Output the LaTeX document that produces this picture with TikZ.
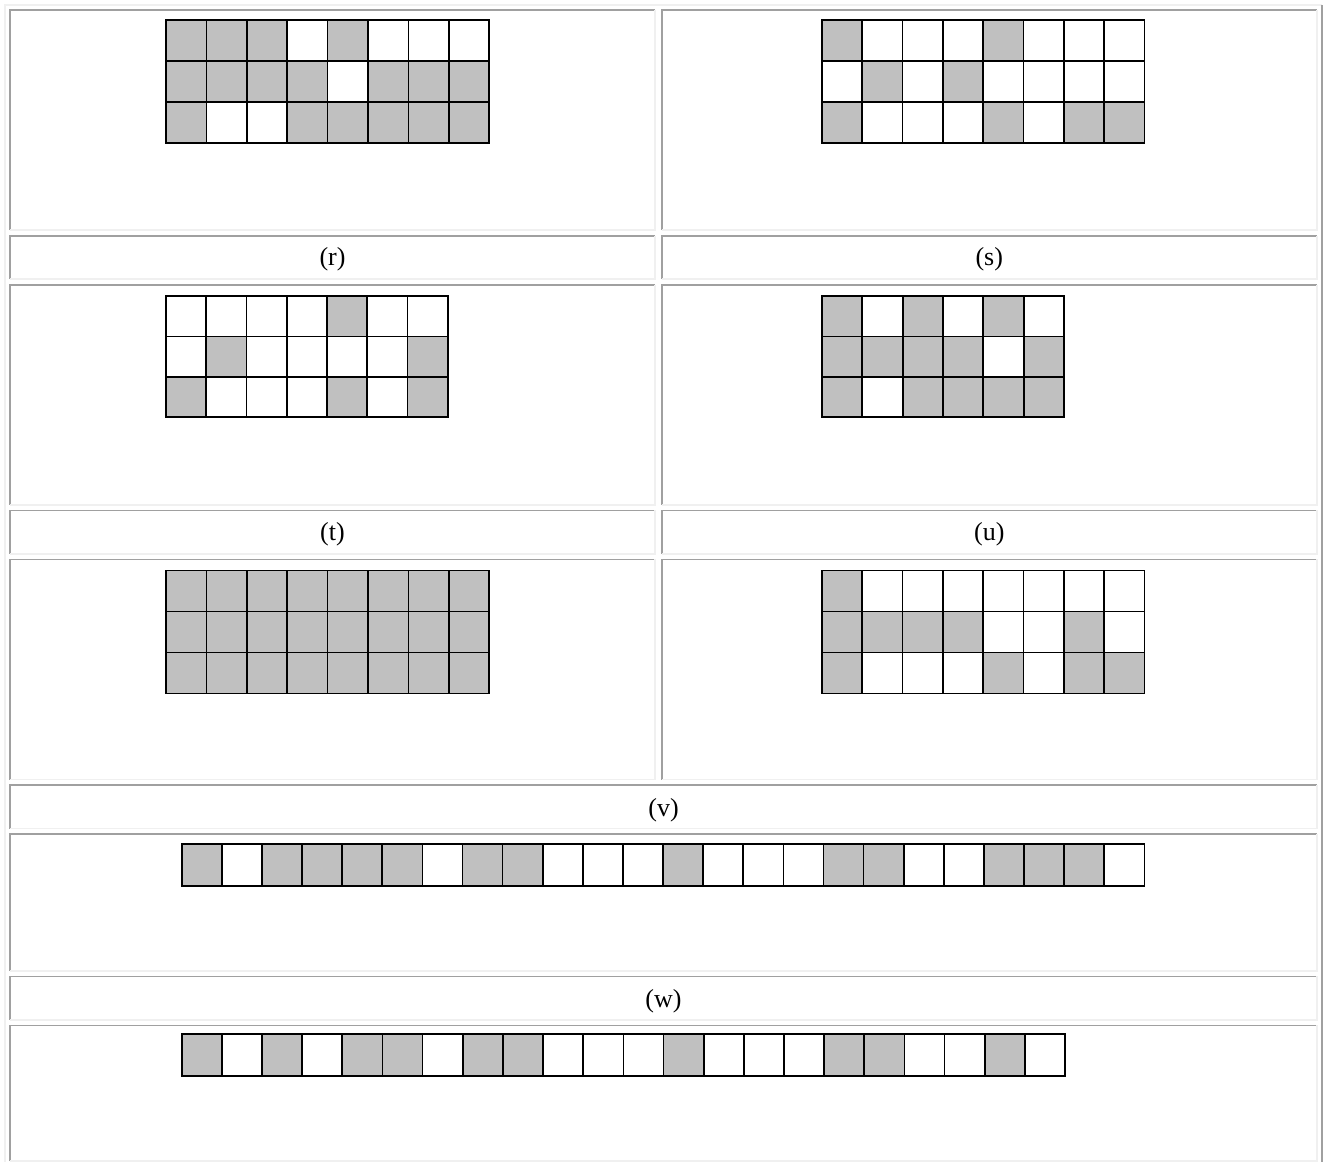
\documentclass[tikz,border=0pt]{standalone}
\usepackage{fontspec}
\setmainfont{Liberation Serif}
\definecolor{bdark}{HTML}{A0A0A0}
\definecolor{blight}{HTML}{F0F0F0}
\definecolor{cellgray}{HTML}{C0C0C0}
\tikzset{
  darkedge/.style={draw=bdark,line width=1.7pt},
  lightedge/.style={draw=blight,line width=1.7pt},
  sq/.style={draw=black,line width=1.7pt},
  lbl/.style={font=\fontsize{26}{31}\selectfont,inner sep=0pt,anchor=center}
}
% table cell with inset border: #1 left, #2 top, #3 right, #4 bottom
\newcommand{\tcell}[4]{%
  \draw[darkedge] (#1,#4) -- (#1,#2) -- (#3,#2);
  \draw[lightedge] (#3,#2) -- (#3,#4) -- (#1,#4);
}
% grid of squares: #1 x0, #2 y0, #3 width, #4 height, #5 rows
\newcommand{\sqgrid}[5]{%
  \foreach \rowlist [count=\rr from 0] in {#5} {
    \foreach \v [count=\cc from 0] in \rowlist {
      \ifnum\v=1
        \draw[sq,fill=cellgray] ({#1+\cc*#3},{#2+\rr*#4}) rectangle ++(#3,#4);
      \else
        \draw[sq,fill=white] ({#1+\cc*#3},{#2+\rr*#4}) rectangle ++(#3,#4);
      \fi
    }
  }
}
\begin{document}
\begin{tikzpicture}[x=1pt,y=-1pt]
\useasboundingbox (0,0) rectangle (1326,1162);
\fill[white] (0,0) rectangle (1326,1162);
% outer table border
\draw[lightedge] (5,1170) -- (5,5.3) -- (1322,5.3);
\draw[darkedge] (1322,5.3) -- (1322,1170);
% rows of cells
\tcell{10}{10}{654.9}{230}
\tcell{661.7}{10}{1316.9}{230}
\tcell{10}{235.8}{654.9}{279.2}
\tcell{661.7}{235.8}{1316.9}{279.2}
\tcell{10}{284.7}{654.9}{504.8}
\tcell{661.7}{284.7}{1316.9}{504.8}
\tcell{10}{510.4}{654.9}{553.8}
\tcell{661.7}{510.4}{1316.9}{553.8}
\tcell{10}{559.4}{654.9}{779.6}
\tcell{661.7}{559.4}{1316.9}{779.6}
\tcell{10}{785.2}{1316.9}{828.6}
\tcell{10}{834.2}{1316.9}{970.8}
\tcell{10}{976.4}{1316.9}{1019.8}
\tcell{10}{1025.4}{1316.9}{1161}
% labels
\node[lbl] (lr) at (332.5,259) {(r)};
\node[lbl] (ls) at (989.3,259) {(s)};
\node[lbl] (lt) at (332.5,534.5) {(t)};
\node[lbl] (lu) at (989.3,534.5) {(u)};
\node[lbl] (lv) at (663.5,810) {(v)};
\node[lbl] (lw) at (663.5,1001) {(w)};
% grids
\sqgrid{166}{20}{40.4}{41.1}{{1,1,1,0,1,0,0,0},{1,1,1,1,0,1,1,1},{1,0,0,1,1,1,1,1}}
\sqgrid{822}{20}{40.3}{41.1}{{1,0,0,0,1,0,0,0},{0,1,0,1,0,0,0,0},{1,0,0,0,1,0,1,1}}
\sqgrid{166}{296}{40.25}{40.4}{{0,0,0,0,1,0,0},{0,1,0,0,0,0,1},{1,0,0,0,1,0,1}}
\sqgrid{822}{296}{40.33}{40.4}{{1,0,1,0,1,0},{1,1,1,1,0,1},{1,0,1,1,1,1}}
\sqgrid{166}{570.5}{40.4}{41.0}{{1,1,1,1,1,1,1,1},{1,1,1,1,1,1,1,1},{1,1,1,1,1,1,1,1}}
\sqgrid{822}{570.5}{40.3}{41.0}{{1,0,0,0,0,0,0,0},{1,1,1,1,0,0,1,0},{1,0,0,0,1,0,1,1}}
\sqgrid{181.7}{844.3}{40.11}{41.4}{{1,0,1,1,1,1,0,1,1,0,0,0,1,0,0,0,1,1,0,0,1,1,1,0}}
\sqgrid{181.7}{1034.3}{40.15}{41.4}{{1,0,1,0,1,1,0,1,1,0,0,0,1,0,0,0,1,1,0,0,1,0}}
\end{tikzpicture}
\end{document}
